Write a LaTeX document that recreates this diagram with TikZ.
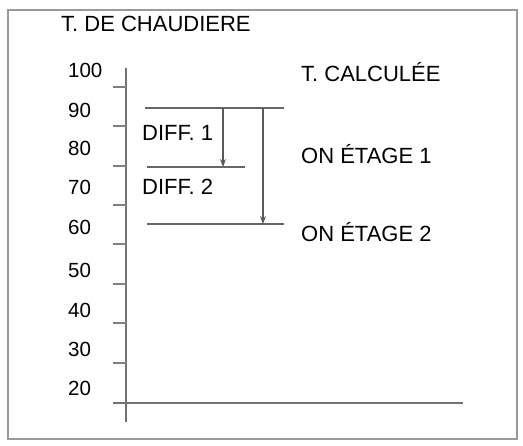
\documentclass[tikz,border=0pt]{standalone}
\usepackage{fontspec}
\setmainfont{Liberation Sans}
\usetikzlibrary{arrows.meta}
\begin{document}
\begin{tikzpicture}[x=1pt,y=-1pt,
  lbl/.style={inner sep=0pt,anchor=west,font=\fontsize{22}{25}\selectfont,text=black},
  num/.style={inner sep=0pt,anchor=west,font=\fontsize{20.5}{24}\selectfont,text=black},
  frame/.style={draw=black!40,line width=2.5pt},
  axis/.style={draw=black!55,line width=2pt},
  tick/.style={draw=black!50,line width=2pt},
  level/.style={draw=black!60,line width=2pt},
  arr/.style={draw=black!65,line width=1.2pt,-{Stealth[length=8pt,width=6pt]}}]
\useasboundingbox (0,0) rectangle (523,446);
\draw[frame] (8,10) rectangle (517,439);
% axes
\coordinate (ytop) at (126,68);
\coordinate (ybot) at (126,422);
\coordinate (xl) at (113,403);
\coordinate (xr) at (463,403);
\draw[axis] (ytop) -- (ybot);
\draw[axis] (xl) -- (xr);
% ticks
\foreach \y in {87,126,166,205,244,284,323,363}
  \draw[tick] (113,\y) -- (126,\y);
% numbers
\node[num] (n100) at (68,70) {100};
\node[num] (n90) at (68,110) {90};
\node[num] (n80) at (68,148) {80};
\node[num] (n70) at (68,187) {70};
\node[num] (n60) at (68,227) {60};
\node[num] (n50) at (68,270) {50};
\node[num] (n40) at (68,310) {40};
\node[num] (n30) at (68,349) {30};
\node[num] (n20) at (68,388) {20};
% titles
\node[lbl] (title) at (61,24) {T. DE CHAUDIERE};
\node[lbl] (calc) at (301,72) {T. CALCULÉE};
\node[lbl] (et1) at (301,154) {ON ÉTAGE 1};
\node[lbl] (et2) at (301,232) {ON ÉTAGE 2};
\node[lbl] (d1) at (142,133) {DIFF. 1};
\node[lbl] (d2) at (142,187) {DIFF. 2};
% level lines
\coordinate (l0a) at (145,108);
\coordinate (l0b) at (284,108);
\coordinate (l1a) at (147,167);
\coordinate (l1b) at (245,167);
\coordinate (l2a) at (147,224);
\coordinate (l2b) at (284,224);
\draw[level] (l0a) -- (l0b);
\draw[level] (l1a) -- (l1b);
\draw[level] (l2a) -- (l2b);
% arrows
\coordinate (a1t) at (223,108);
\coordinate (a1b) at (223,167);
\coordinate (a2t) at (263,108);
\coordinate (a2b) at (263,224);
\draw[arr] (a1t) -- (a1b);
\draw[arr] (a2t) -- (a2b);
\end{tikzpicture}
\end{document}
